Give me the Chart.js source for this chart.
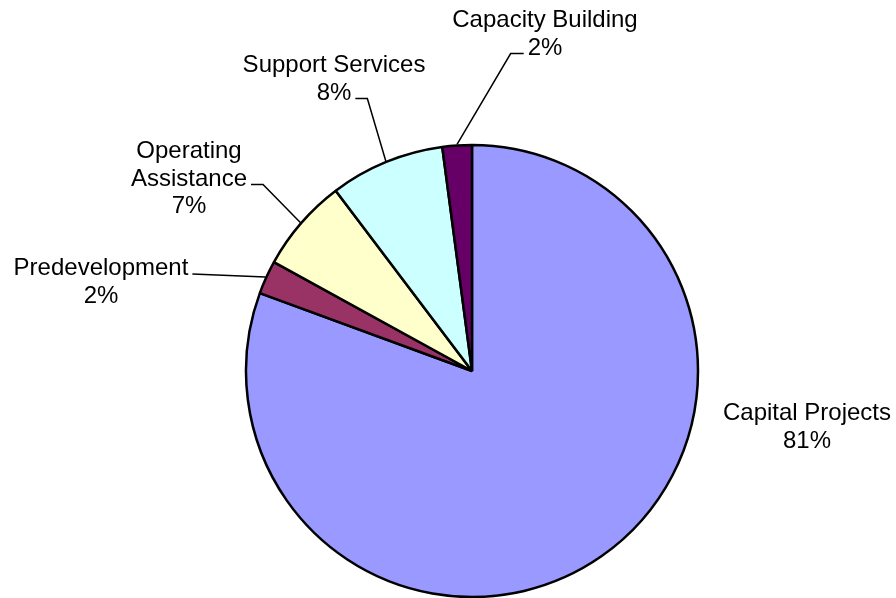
<!DOCTYPE html>
<html>
<head>
<meta charset="utf-8">
<script src="https://cdn.jsdelivr.net/npm/chart.js@4"></script>
<style>
  html, body { margin: 0; padding: 0; background: #fff; }
  #wrap { width: 896px; height: 598px; }
</style>
</head>
<body>
<div id="wrap"><canvas id="pieChart" width="896" height="598"></canvas></div>
<script>
// Chart data
const categories = ['Capital Projects', 'Predevelopment', 'Operating Assistance', 'Support Services', 'Capacity Building'];
const values = [80.6, 2.4, 6.7, 8.2, 2.1];
const sliceColors = ['#9999FF', '#993366', '#FFFFCC', '#CCFFFF', '#660066'];

// Label placement: text centre x, first baseline y, leader stub settings
const labelLayout = [
    { x: 807, y: 420, split: false, leader: null },
    { x: 101, y: 275, split: false, leader: { line: 0, side: 'right', len: 0 } },
    { x: 189, y: 158, split: true, leader: { line: 1, side: 'right', len: 12 } },
    { x: 334, y: 72, split: false, leader: { line: 1, side: 'right', len: 12 } },
    { x: 545, y: 27, split: false, leader: { line: 1, side: 'left', len: 13 } }
];
const lineHeight = 27.5;

// Draws the slice labels and leader lines
const sliceLabels = {
    id: 'sliceLabels',
    afterDatasetsDraw(chart) {
        const ctx = chart.ctx;
        const arcs = chart.getDatasetMeta(0).data;
        const total = values.reduce((a, b) => a + b, 0);

        ctx.save();
        ctx.font = '24px "Liberation Sans", Arial, sans-serif';
        ctx.fillStyle = '#000';
        ctx.strokeStyle = '#000';
        ctx.lineWidth = 1.5;
        ctx.textAlign = 'center';
        ctx.textBaseline = 'alphabetic';

        arcs.forEach((arc, i) => {
            const pos = labelLayout[i];
            const name = categories[i];
            const lines = pos.split ? name.split(' ') : [name];
            lines.push(Math.round(values[i] / total * 100) + '%');

            lines.forEach((txt, j) => {
                ctx.fillText(txt, pos.x, pos.y + j * lineHeight);
            });

            if (pos.leader) {
                const ld = pos.leader;
                const w = ctx.measureText(lines[ld.line]).width;
                const dir = ld.side === 'right' ? 1 : -1;
                const sx = pos.x + dir * (w / 2 + 4);
                const sy = pos.y + ld.line * lineHeight - 1;
                const ex = sx + dir * ld.len;
                const mid = (arc.startAngle + arc.endAngle) / 2;
                const r = arc.outerRadius + 1;
                ctx.beginPath();
                ctx.moveTo(sx, sy);
                ctx.lineTo(ex, sy);
                ctx.lineTo(arc.x + r * Math.cos(mid), arc.y + r * Math.sin(mid));
                ctx.stroke();
            }
        });
        ctx.restore();
    }
};

const ctx = document.getElementById('pieChart').getContext('2d');
const pieChart = new Chart(ctx, {
    type: 'pie',
    data: {
        labels: categories,
        datasets: [{
            data: values,
            backgroundColor: sliceColors,
            borderColor: '#000',
            borderWidth: 2.5,
            clip: false
        }]
    },
    options: {
        responsive: false,
        animation: false,
        radius: 226,
        layout: {
            padding: { left: 242, right: 194, top: 144, bottom: 0 }
        },
        plugins: {
            legend: { display: false },
            tooltip: { enabled: false }
        }
    },
    plugins: [sliceLabels]
});
</script>
</body>
</html>
